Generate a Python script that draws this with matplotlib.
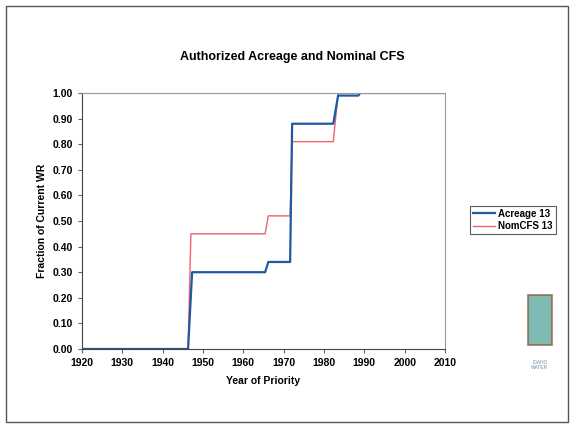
import matplotlib
matplotlib.use("Agg")
import matplotlib.pyplot as plt
from matplotlib.patches import Rectangle

# step data
acre_year = [1920, 1946.3, 1947.3, 1965.4, 1966.2, 1971.6, 1972.1, 1982.3, 1983.5, 1988.5, 1989, 2010]
acre_frac = [0.00, 0.00, 0.30, 0.30, 0.34, 0.34, 0.88, 0.88, 0.99, 0.99, 1.00, 1.00]

cfs_year = [1920, 1946.3, 1947.0, 1965.4, 1966.2, 1971.6, 1972.1, 1982.3, 1983.5, 2010]
cfs_frac = [0.00, 0.00, 0.45, 0.45, 0.52, 0.52, 0.81, 0.81, 1.00, 1.00]

xticks = list(range(1920, 2011, 10))
yticks = [i / 10 for i in range(11)]

plt.rcParams['font.family'] = ['Liberation Sans', 'DejaVu Sans']

fig = plt.figure(figsize=(5.75, 4.3), dpi=100)
ax = fig.add_axes([82 / 575, 1 - 349 / 430, (445 - 82) / 575, (349 - 93) / 430])

ax.plot(cfs_year, cfs_frac, color='#f06070', lw=1.0, label='NomCFS 13')
ax.plot(acre_year, acre_frac, color='#1d5aa0', lw=1.6, label='Acreage 13')

ax.set_xlim(1920, 2010)
ax.set_ylim(0, 1)
ax.set_xticks(xticks)
ax.set_yticks(yticks)
ax.set_yticklabels(['%.2f' % v for v in yticks])
ax.tick_params(labelsize=7.5, length=3, color='#666666')
for lab in ax.get_xticklabels() + ax.get_yticklabels():
    lab.set_fontweight('bold')
for sp in ax.spines.values():
    sp.set_color('#999999')
    sp.set_linewidth(0.8)
ax.spines['left'].set_color('#444444')
ax.spines['bottom'].set_color('#444444')

ax.set_xlabel('Year of Priority', fontsize=7.5, fontweight='bold', labelpad=6)
ax.set_ylabel('Fraction of Current WR', fontsize=7.5, fontweight='bold', labelpad=4)
fig.text(292 / 575, 1 - 57 / 430, 'Authorized Acreage and Nominal CFS',
         ha='center', va='center', fontsize=9, fontweight='bold')

h, l = ax.get_legend_handles_labels()
leg = fig.legend(h[::-1], l[::-1], loc='center', bbox_to_anchor=(513 / 575, 1 - 220 / 430),
                 fontsize=7, frameon=True, fancybox=False, handlelength=2.2,
                 borderpad=0.3, labelspacing=0.3, handletextpad=0.4)
leg.get_frame().set_edgecolor('#333333')
leg.get_frame().set_linewidth(0.8)
for t in leg.get_texts():
    t.set_fontweight('bold')

# outer border of the slide
fig.patches.append(Rectangle((6 / 575, 8 / 430), 562 / 575, 416 / 430, transform=fig.transFigure,
                             fill=False, edgecolor='#555555', lw=1.0))
# small logo block
fig.patches.append(Rectangle((528 / 575, 1 - 345 / 430), 24 / 575, 50 / 430, transform=fig.transFigure,
                             facecolor='#5fa8a0', edgecolor='#8a5a30', lw=1.2, alpha=0.8))
fig.text(540 / 575, 1 - 365 / 430, 'IDAHO\nWATER', ha='center', va='center', fontsize=3.5, color='#7090a0')

fig.savefig('out.png', dpi=100)
